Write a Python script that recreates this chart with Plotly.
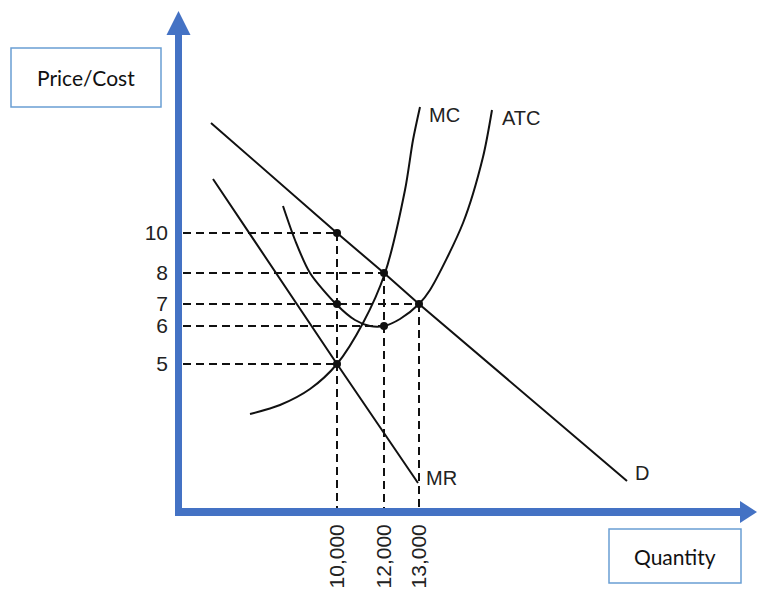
import plotly.graph_objects as go

# ---- data (diagram units: schematic economics chart) ----
price_labels = ["10", "8", "7", "6", "5"]
price_pos = [280, 240, 209, 187, 149]
qty_labels = ["10,000", "12,000", "13,000"]
qty_pos = [159, 206, 241]

demand_x = [33, 159, 206, 241, 449]
demand_y = [390, 280, 240, 209, 32]
mr_x = [35, 159, 240]
mr_y = [334, 149, 30]
mc_x = [72, 102, 132, 159, 185, 207, 227, 235, 242]
mc_y = [99, 108, 124, 149, 190, 240, 323, 373, 406]
atc_x = [105, 117, 132, 159, 177, 192, 206, 222, 241, 252, 285, 305, 314]
atc_y = [307, 273, 240, 208, 193, 187, 187, 194, 209, 223, 290, 356, 403]

# dashed guide lines: (price index, quantity index)
h_guides = [(0, 0), (1, 1), (2, 2), (3, 1), (4, 0)]
v_guides = [(0, 0), (1, 1), (2, 2)]
dots = [(0, 0), (1, 1), (2, 0), (2, 2), (3, 1), (4, 0)]

W, H = 757, 591
L, B = 178, 78
PW, PH = W - L, H - B
BLUE = "#4472C4"
BOX = "#6A9FD4"
INK = "#111111"

fig = go.Figure()

def px(X):  # page pixel x -> paper
    return (X - L) / PW

def py(Y):  # page pixel y (from top) -> paper
    return (PH - Y) / PH

dash = "8px,5px"
for pi, qi in h_guides:
    fig.add_trace(go.Scatter(x=[5, qty_pos[qi]], y=[price_pos[pi]] * 2, mode="lines",
                             line=dict(color=INK, width=2, dash=dash), hoverinfo="skip"))
for pi, qi in v_guides:
    fig.add_trace(go.Scatter(x=[qty_pos[qi]] * 2, y=[price_pos[pi], 4], mode="lines",
                             line=dict(color=INK, width=2, dash=dash), hoverinfo="skip"))

for xs, ys in [(demand_x, demand_y), (mr_x, mr_y)]:
    fig.add_trace(go.Scatter(x=xs, y=ys, mode="lines", line=dict(color=INK, width=2)))
for xs, ys in [(mc_x, mc_y), (atc_x, atc_y)]:
    fig.add_trace(go.Scatter(x=xs, y=ys, mode="lines",
                             line=dict(color=INK, width=2, shape="spline", smoothing=0.8)))

fig.add_trace(go.Scatter(x=[qty_pos[q] for p, q in dots], y=[price_pos[p] for p, q in dots],
                         mode="markers", marker=dict(color=INK, size=8)))

curve_labels = [("MC", mc_x[-1] + 7, mc_y[-1] - 8), ("ATC", atc_x[-1] + 8, atc_y[-1] - 8),
                ("MR", mr_x[-1] + 6, mr_y[-1] + 5), ("D", demand_x[-1] + 6, demand_y[-1] + 8)]
for t, x, y in curve_labels:
    fig.add_annotation(x=x, y=y, text=t, showarrow=False, xanchor="left", yanchor="middle",
                       font=dict(family="Liberation Sans, Arial", size=20, color="#222"))

# axes arrows (decoration)
fig.add_shape(type="line", xref="paper", yref="paper", x0=px(178.5), x1=px(178.5), y0=py(516), y1=py(34),
              line=dict(color=BLUE, width=7))
fig.add_shape(type="line", xref="paper", yref="paper", x0=px(175), x1=px(741), y0=py(512), y1=py(512),
              line=dict(color=BLUE, width=8))
fig.add_shape(type="path", xref="paper", yref="paper",
              path=f"M {px(166.5)} {py(35)} L {px(190.5)} {py(35)} L {px(178.5)} {py(11)} Z",
              fillcolor=BLUE, line=dict(color=BLUE, width=0))
fig.add_shape(type="path", xref="paper", yref="paper",
              path=f"M {px(740)} {py(501)} L {px(740)} {py(523)} L {px(757)} {py(512)} Z",
              fillcolor=BLUE, line=dict(color=BLUE, width=0))

# label boxes
for text, x0, y0, x1, y1 in [("Price/Cost", 11, 48, 161, 107), ("Quantity", 609, 529, 741, 583)]:
    fig.add_shape(type="rect", xref="paper", yref="paper", x0=px(x0), x1=px(x1),
                  y0=py(y0), y1=py(y1), line=dict(color=BOX, width=1.5), fillcolor="white")
    fig.add_annotation(xref="paper", yref="paper", x=px((x0 + x1) / 2), y=py((y0 + y1) / 2),
                       text=text, showarrow=False, xanchor="center", yanchor="middle",
                       font=dict(family="Lato", size=21, color="#111"))

fig.update_layout(
    width=W, height=H, margin=dict(l=L, r=0, t=0, b=B, autoexpand=False),
    paper_bgcolor="white", plot_bgcolor="white", showlegend=False,
    xaxis=dict(range=[0, PW], tickvals=qty_pos, ticktext=qty_labels, tickangle=-90,
               showgrid=False, zeroline=False, showline=False, ticks="", ticklabelstandoff=6,
               tickfont=dict(family="Liberation Sans, Arial", size=21, color="#222"), fixedrange=True),
    yaxis=dict(range=[0, H - B], tickvals=price_pos, ticktext=price_labels,
               showgrid=False, zeroline=False, showline=False, ticks="", ticklabelstandoff=9,
               tickfont=dict(family="Liberation Sans, Arial", size=21, color="#222"), fixedrange=True),
)

fig.write_html("out.html", config={"displayModeBar": False},
               post_script="document.body.style.margin='0';document.body.style.padding='0';")
